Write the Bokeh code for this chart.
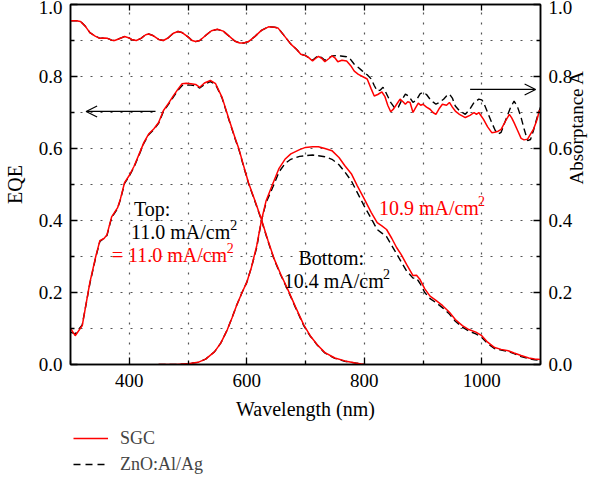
import math
from bokeh.plotting import figure
from bokeh.layouts import column
from bokeh.models import (Range1d, LinearAxis, FixedTicker, Arrow, OpenHead, Label,
                          Legend, LegendItem, PrintfTickFormatter)
from bokeh.embed import file_html
from bokeh.resources import INLINE

# ---------------- data ----------------
# Top cell EQE
wl_top = [300, 308, 320, 333, 343, 350, 357, 362, 370, 380, 385, 392, 400, 408, 417, 425, 433,
          442, 450, 458, 467, 475, 483, 490, 497, 505, 513, 520, 528, 538, 547, 558, 570, 580,
          587, 595, 603, 614, 625, 636, 647, 658, 670, 683, 697, 708, 720, 733, 750, 767, 785, 800]
eqe_top_sgc = [0.10, 0.08, 0.108, 0.228, 0.30, 0.344, 0.35, 0.36, 0.41, 0.435, 0.46, 0.505, 0.525,
               0.55, 0.585, 0.617, 0.64, 0.655, 0.672, 0.705, 0.726, 0.746, 0.765, 0.78, 0.781,
               0.78, 0.778, 0.77, 0.782, 0.789, 0.78, 0.742, 0.68, 0.63, 0.597, 0.55, 0.505,
               0.455, 0.403, 0.345, 0.292, 0.25, 0.208, 0.16, 0.11, 0.08, 0.055, 0.033, 0.018,
               0.01, 0.004, 0.0]
eqe_top_zno = [0.09, 0.085, 0.11, 0.225, 0.298, 0.342, 0.35, 0.358, 0.408, 0.433, 0.458, 0.503, 0.523,
               0.548, 0.583, 0.615, 0.638, 0.653, 0.67, 0.702, 0.723, 0.743, 0.762, 0.775, 0.776,
               0.776, 0.774, 0.768, 0.778, 0.786, 0.778, 0.74, 0.678, 0.628, 0.595, 0.548, 0.503,
               0.453, 0.401, 0.343, 0.29, 0.248, 0.206, 0.158, 0.108, 0.079, 0.054, 0.032, 0.017,
               0.009, 0.004, 0.0]

# Bottom cell EQE
wl_bot = [450, 480, 500, 517, 530, 545, 556, 567, 575, 583, 592, 600, 608, 617, 625, 633, 645, 655,
          665, 675, 690, 700, 712, 722, 733, 745, 757, 767, 778, 788, 800, 812, 822, 830, 838, 847,
          855, 863, 872, 883, 889, 895, 903, 912, 922, 933, 945, 955, 967, 978, 990, 1000, 1010,
          1022, 1033, 1045, 1055, 1067, 1080, 1090, 1100]
eqe_bot_sgc = [0.0, 0.0, 0.002, 0.006, 0.015, 0.035, 0.06, 0.097, 0.13, 0.165, 0.2, 0.228, 0.27,
               0.33, 0.40, 0.455, 0.505, 0.545, 0.57, 0.585, 0.597, 0.603, 0.605, 0.605, 0.60,
               0.594, 0.575, 0.552, 0.53, 0.497, 0.46, 0.422, 0.394, 0.385, 0.375, 0.35, 0.325,
               0.305, 0.278, 0.247, 0.248, 0.236, 0.21, 0.19, 0.178, 0.164, 0.145, 0.125, 0.108,
               0.097, 0.09, 0.08, 0.062, 0.047, 0.042, 0.038, 0.032, 0.025, 0.018, 0.015, 0.014]
eqe_bot_zno = [0.0, 0.0, 0.002, 0.006, 0.015, 0.035, 0.06, 0.097, 0.13, 0.165, 0.2, 0.228, 0.27,
               0.325, 0.40, 0.45, 0.495, 0.535, 0.558, 0.57, 0.578, 0.58, 0.582, 0.58, 0.577,
               0.57, 0.555, 0.535, 0.51, 0.478, 0.44, 0.405, 0.375, 0.365, 0.355, 0.33, 0.308,
               0.285, 0.26, 0.24, 0.24, 0.225, 0.20, 0.183, 0.172, 0.158, 0.14, 0.12, 0.104,
               0.093, 0.085, 0.075, 0.058, 0.044, 0.04, 0.036, 0.03, 0.022, 0.016, 0.013, 0.012]

# Absorptance A
wl_abs_sgc = [300, 310, 317, 325, 333, 342, 350, 358, 363, 370, 375, 383, 392, 400, 405, 412, 420,
              428, 433, 440, 450, 458, 466, 475, 483, 490, 500, 507, 513, 520, 530, 540, 550, 560,
              570, 580, 588, 595, 603, 613, 625, 637, 647, 653, 663, 675, 685, 692, 700, 705, 712,
              717, 722, 728, 733, 740, 745, 750, 755, 762, 770, 777, 783, 790, 797, 805, 812, 817,
              823, 830, 835, 840, 845, 850, 856, 861, 866, 870, 874, 878, 883, 887, 892, 896, 900,
              906, 912, 917, 922, 928, 933, 940, 945, 950, 955, 962, 972, 980, 987, 991, 995, 1003,
              1010, 1017, 1022, 1028, 1033, 1040, 1047, 1051, 1055, 1061, 1067, 1072, 1078, 1083,
              1088, 1094, 1098, 1100]
abs_sgc = [0.955, 0.955, 0.953, 0.94, 0.922, 0.912, 0.906, 0.907, 0.906, 0.901, 0.9, 0.905, 0.911,
           0.907, 0.902, 0.9, 0.906, 0.916, 0.918, 0.914, 0.903, 0.9, 0.907, 0.92, 0.925, 0.922,
           0.91, 0.9, 0.897, 0.9, 0.914, 0.927, 0.931, 0.926, 0.912, 0.898, 0.893, 0.893, 0.897,
           0.91, 0.928, 0.938, 0.937, 0.935, 0.915, 0.89, 0.875, 0.862, 0.858, 0.853, 0.843, 0.85,
           0.856, 0.85, 0.841, 0.85, 0.857, 0.852, 0.841, 0.845, 0.843, 0.83, 0.815, 0.806, 0.8,
           0.793, 0.765, 0.746, 0.75, 0.757, 0.745, 0.72, 0.702, 0.71, 0.725, 0.737, 0.73, 0.723,
           0.73, 0.728, 0.70, 0.712, 0.726, 0.72, 0.723, 0.715, 0.709, 0.70, 0.695, 0.712, 0.723,
           0.72, 0.728, 0.715, 0.704, 0.695, 0.686, 0.692, 0.70, 0.695, 0.70, 0.681, 0.66, 0.644,
           0.645, 0.648, 0.653, 0.675, 0.695, 0.685, 0.672, 0.65, 0.628, 0.624, 0.626, 0.64,
           0.653, 0.68, 0.705, 0.706]
wl_abs_zno = [300, 310, 317, 325, 333, 342, 350, 358, 363, 370, 375, 383, 392, 400, 405, 412, 420,
              428, 433, 440, 450, 458, 466, 475, 483, 490, 500, 507, 513, 520, 530, 540, 550, 560,
              570, 580, 588, 595, 603, 613, 625, 637, 647, 653, 663, 675, 685, 692, 700, 705, 712,
              717, 722, 728, 733, 740, 745, 752, 760, 770, 777, 783, 790, 797, 805, 812, 817, 822,
              827, 832, 837, 845, 852, 858, 864, 870, 876, 883, 889, 895, 900, 906, 912, 918, 922,
              928, 935, 940, 945, 950, 955, 962, 972, 980, 987, 995, 1000, 1003, 1010, 1017, 1023,
              1028, 1033, 1040, 1048, 1055, 1061, 1067, 1072, 1078, 1083, 1088, 1094, 1100]
abs_zno = [0.955, 0.955, 0.953, 0.94, 0.922, 0.912, 0.906, 0.907, 0.906, 0.901, 0.9, 0.905, 0.911,
           0.907, 0.902, 0.9, 0.906, 0.916, 0.918, 0.914, 0.903, 0.9, 0.907, 0.92, 0.925, 0.922,
           0.91, 0.9, 0.897, 0.9, 0.914, 0.927, 0.931, 0.926, 0.912, 0.898, 0.893, 0.893, 0.897,
           0.91, 0.928, 0.938, 0.937, 0.935, 0.915, 0.89, 0.875, 0.862, 0.858, 0.853, 0.845, 0.852,
           0.858, 0.852, 0.845, 0.852, 0.857, 0.858, 0.857, 0.855, 0.847, 0.834, 0.825, 0.815,
           0.805, 0.793, 0.775, 0.76, 0.762, 0.77, 0.755, 0.728, 0.712, 0.715, 0.735, 0.751, 0.745,
           0.728, 0.735, 0.752, 0.756, 0.75, 0.737, 0.728, 0.723, 0.728, 0.737, 0.746, 0.751, 0.74,
           0.718, 0.705, 0.695, 0.71, 0.728, 0.737, 0.735, 0.728, 0.70, 0.672, 0.65, 0.64, 0.645,
           0.676, 0.71, 0.732, 0.715, 0.686, 0.655, 0.622, 0.625, 0.65, 0.685, 0.715]

x_major_ticks = [400, 600, 800, 1000]
x_minor_ticks = [300, 500, 700, 900, 1100]
x_top_ticks = [400, 500, 600, 700, 800, 900, 1000]
y_major_ticks = [0.0, 0.2, 0.4, 0.6, 0.8, 1.0]
y_minor_ticks = [0.1, 0.3, 0.5, 0.7, 0.9]
grid_x = [400, 500, 600, 700, 800, 900, 1000]
grid_y = [0.1, 0.2, 0.3, 0.4, 0.5, 0.6, 0.7, 0.8, 0.9]

FONT = "Liberation Serif"
RED = "#ff0000"

W = 600
BL, BR, BT, BB = 62, 57, 4, 62
H1 = 426

p = figure(width=W, height=H1, x_range=Range1d(300, 1100), y_range=Range1d(0, 1),
           output_backend="svg", toolbar_location=None,
           min_border_left=BL, min_border_right=BR, min_border_top=BT, min_border_bottom=BB)
p.extra_y_ranges = {"abs": Range1d(0, 1)}
p.background_fill_color = "white"
p.border_fill_color = "white"
p.outline_line_color = "black"
p.outline_line_width = 1.5

# grids
p.xgrid.ticker = FixedTicker(ticks=grid_x)
p.ygrid.ticker = FixedTicker(ticks=grid_y)
for g in (p.xgrid, p.ygrid):
    g.grid_line_color = "#555555"
    g.grid_line_dash = "2 8"
    g.grid_line_width = 1.2


def style_axis(ax):
    ax.axis_line_color = "black"
    ax.axis_line_width = 1.5
    ax.major_tick_in = 7
    ax.major_tick_out = 0
    ax.minor_tick_in = 4
    ax.minor_tick_out = 0
    ax.major_tick_line_color = "black"
    ax.minor_tick_line_color = "black"
    ax.major_tick_line_width = 1.3
    ax.minor_tick_line_width = 1.3
    ax.major_label_text_font = FONT
    ax.major_label_text_color = "black"
    ax.major_label_text_font_size = "19px"
    ax.axis_label_text_font = FONT
    ax.axis_label_text_font_style = "normal"
    ax.axis_label_text_font_size = "20px"
    ax.axis_label_text_color = "black"


xb = p.xaxis[0]
xb.ticker = FixedTicker(ticks=x_major_ticks, minor_ticks=x_minor_ticks)
style_axis(xb)
xb.major_label_standoff = 9
xb.axis_label = "Wavelength (nm)"
xb.axis_label_standoff = 8

yl = p.yaxis[0]
yl.ticker = FixedTicker(ticks=y_major_ticks, minor_ticks=y_minor_ticks)
yl.formatter = PrintfTickFormatter(format="%.1f")
style_axis(yl)
yl.major_label_standoff = 8
yl.axis_label = "EQE"
yl.axis_label_standoff = 10

# top axis: ticks only (minor ticks, no labels)
xt = LinearAxis(ticker=FixedTicker(ticks=[], minor_ticks=x_top_ticks))
style_axis(xt)
xt.minor_tick_in = 6
p.add_layout(xt, "above")

yr = LinearAxis(y_range_name="abs",
                ticker=FixedTicker(ticks=y_major_ticks, minor_ticks=y_minor_ticks),
                formatter=PrintfTickFormatter(format="%.1f"))
style_axis(yr)
yr.major_label_standoff = 8
yr.axis_label = "Absorptance A"
yr.axis_label_text_font_size = "19px"
yr.axis_label_standoff = 1
if "axis_label_orientation" in yr.properties():
    yr.axis_label_orientation = math.pi / 2
p.add_layout(yr, "right")

# curves: dashed black first, red on top
dash = "7 4"
p.line(wl_top, eqe_top_zno, line_color="black", line_dash=dash, line_width=1.4)
p.line(wl_bot, eqe_bot_zno, line_color="black", line_dash=dash, line_width=1.4)
p.line(wl_abs_zno, abs_zno, line_color="black", line_dash=dash, line_width=1.4, y_range_name="abs")
p.line(wl_top, eqe_top_sgc, line_color=RED, line_width=1.5)
p.line(wl_bot, eqe_bot_sgc, line_color=RED, line_width=1.5)
p.line(wl_abs_sgc, abs_sgc, line_color=RED, line_width=1.5, y_range_name="abs")

# arrows
p.add_layout(Arrow(end=OpenHead(size=11, line_width=1.2, line_color="black"),
                   x_start=444.7, y_start=0.703, x_end=326.6, y_end=0.703,
                   line_width=1.2, line_color="black"))
p.add_layout(Arrow(end=OpenHead(size=11, line_width=1.2, line_color="black"),
                   x_start=980.2, y_start=0.764, x_end=1091.7, y_end=0.764,
                   line_width=1.2, line_color="black", y_range_name="abs"))

# annotations
PX = (W - BL - BR) / 800.0   # px per nm
PY = float(H1 - BT - BB)     # px per EQE unit


def note(x, y, text, color="black", sup_after=None):
    p.add_layout(Label(x=x, y=y, text=text, text_color=color, text_font=FONT,
                       text_font_size="20px", text_align="left", text_baseline="alphabetic"))
    if sup_after is not None:
        p.add_layout(Label(x=x + (sup_after + 1.5) / PX, y=y + 7 / PY, text="2", text_color=color,
                           text_font=FONT, text_font_size="14px", text_align="left",
                           text_baseline="alphabetic"))


note(408, 0.431, "Top:")
note(403, 0.369, "11.0 mA/cm", sup_after=100.0)
note(370, 0.303, "= 11.0 mA/cm", RED, sup_after=116.3)
note(688, 0.297, "Bottom:")
note(663, 0.233, "10.4 mA/cm", sup_after=100.0)
note(825, 0.436, "10.9 mA/cm", RED, sup_after=100.0)

# ---------------- legend strip ----------------
p2 = figure(width=W, height=50, x_range=Range1d(300, 1100), y_range=Range1d(5, 6),
            x_axis_type=None, y_axis_type=None,
            output_backend="svg", toolbar_location=None,
            min_border_left=BL, min_border_right=BR, min_border_top=0, min_border_bottom=0)
p2.grid.visible = False
p2.outline_line_color = None
p2.background_fill_color = "white"
p2.border_fill_color = "white"
l_sgc = p2.line(wl_top, eqe_top_sgc, line_color=RED, line_width=1.5)
l_zno = p2.line(wl_top, eqe_top_zno, line_color="black", line_dash="7 5", line_width=1.4)
legend = Legend(items=[LegendItem(label="SGC", renderers=[l_sgc]),
                       LegendItem(label="ZnO:Al/Ag", renderers=[l_zno])],
                location=(3, 0))
legend.label_text_font = FONT
legend.label_text_font_size = "18px"
legend.label_height = 24
legend.glyph_height = 24
legend.glyph_width = 35
legend.label_standoff = 12
legend.spacing = 2
legend.padding = 0
legend.margin = 0
legend.border_line_alpha = 0
legend.background_fill_alpha = 0
p2.add_layout(legend, "center")

layout = column(p, p2, spacing=0)
open("out.html", "w").write(file_html(layout, INLINE))
